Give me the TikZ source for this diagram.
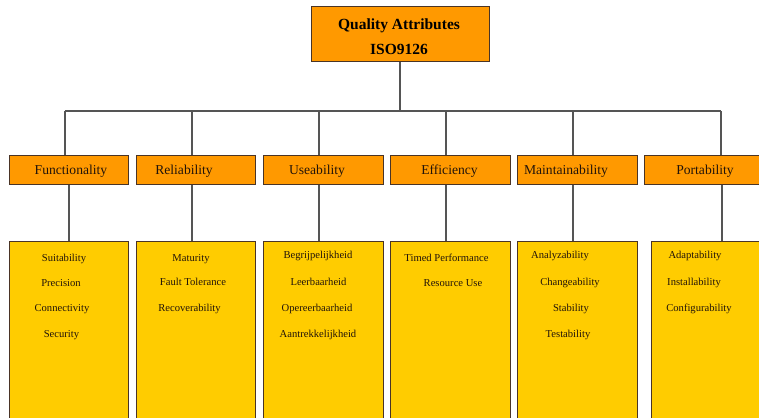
\documentclass[tikz,border=0pt]{standalone}
\usepackage{fontspec}
\setmainfont{Liberation Serif}
\usetikzlibrary{positioning}
\definecolor{topfill}{HTML}{FF9900}
\definecolor{subfill}{HTML}{FFCC00}
\definecolor{boxline}{HTML}{4A3426}
\definecolor{wirecol}{HTML}{555555}
\definecolor{inkcol}{HTML}{22140A}
\tikzset{
  attr/.style={draw=boxline, fill=topfill, line width=1pt, minimum height=29pt, inner sep=0pt},
  head/.style={text=inkcol, inner sep=0pt, text height=8pt, text depth=0pt, font=\fontsize{13.6}{15}\selectfont},
  sublist/.style={draw=boxline, fill=subfill, line width=1pt, inner sep=0pt, minimum height=200pt, anchor=north},
  item/.style={text=inkcol, inner sep=0pt, text height=9pt, text depth=0pt, font=\fontsize{10.6}{12}\selectfont},
  wire/.style={draw=wirecol, line width=1.1pt}
}

\begin{document}
\begin{tikzpicture}[x=1pt,y=-1pt]
                    \useasboundingbox (0,0) rectangle (759,417);
                    \clip (0,0) rectangle (759,417);
                    % root
                    \node[attr, minimum width=178pt, minimum height=55pt] (qa) at (400,34.5) {};
                    \node[align=center, inner sep=0pt, font=\bfseries\fontsize{15.5}{25}\selectfont] (qa-t) at (399,37) {Quality Attributes\\ISO9126};
                    \coordinate (busL) at (65,111);
                    \coordinate (busR) at (721,111);
                    \draw[wire] (qa.south) -- (qa.south |- busL);
                    \draw[wire] (busL) -- (busR);
                    % second row
                    \foreach \n/\c/\w in {fun/68.5/119, rel/195.5/119, use/323/120, eff/450/120, mai/577/120, por/707/126}
                        \node[attr, minimum width=\w pt] (\n) at (\c,169.5) {};
                    \foreach \n/\x/\t in {fun/71/Functionality, rel/184/Reliability, use/317/Useability,
                                          eff/449.5/Efficiency, mai/566/Maintainability, por/705/Portability}
                        \node[head] (\n-t) at (\x,170) {\t};
                    \foreach \n/\x in {fun/65, rel/192, use/319, eff/446, mai/573, por/721}
                        \draw[wire] (busL -| \x,0) -- (\n.north -| \x,0);
                    % lists
                    \foreach \n/\c/\w in {fun/68.5/119, rel/195.5/119, use/323/120, eff/450/120, mai/577/120, por/710.5/119}
                        \node[sublist, minimum width=\w pt] (\n-l) at (\c,241) {};
                    \foreach \n/\x in {fun/69, rel/192, use/319, eff/446, mai/573, por/722}
                        \draw[wire] (\n.south -| \x,0) -- (\n-l.north -| \x,0);
                    \foreach \n/\x/\y/\t in {suit/64/257/Suitability, prec/61/282/Precision, conn/62/307/Connectivity, secu/61.5/333/Security,
                                             matu/191/257/Maturity, faul/193/281/Fault Tolerance, reco/189.5/307/Recoverability,
                                             begr/318/254/Begrijpelijkheid, leer/318.5/281/Leerbaarheid, oper/317/307/Opereerbaarheid, aant/318/333/Aantrekkelijkheid,
                                             time/446.5/257/Timed Performance, reso/453/282/Resource Use,
                                             anal/560/254/Analyzability, chan/570/281/Changeability, stab/571/307/Stability, test/568/333/Testability,
                                             adap/695/254/Adaptability, inst/694/281/Installability, conf/699/307/Configurability}
                        \node[item] (\n) at (\x,\y) {\t};
                \end{tikzpicture}
\end{document}
